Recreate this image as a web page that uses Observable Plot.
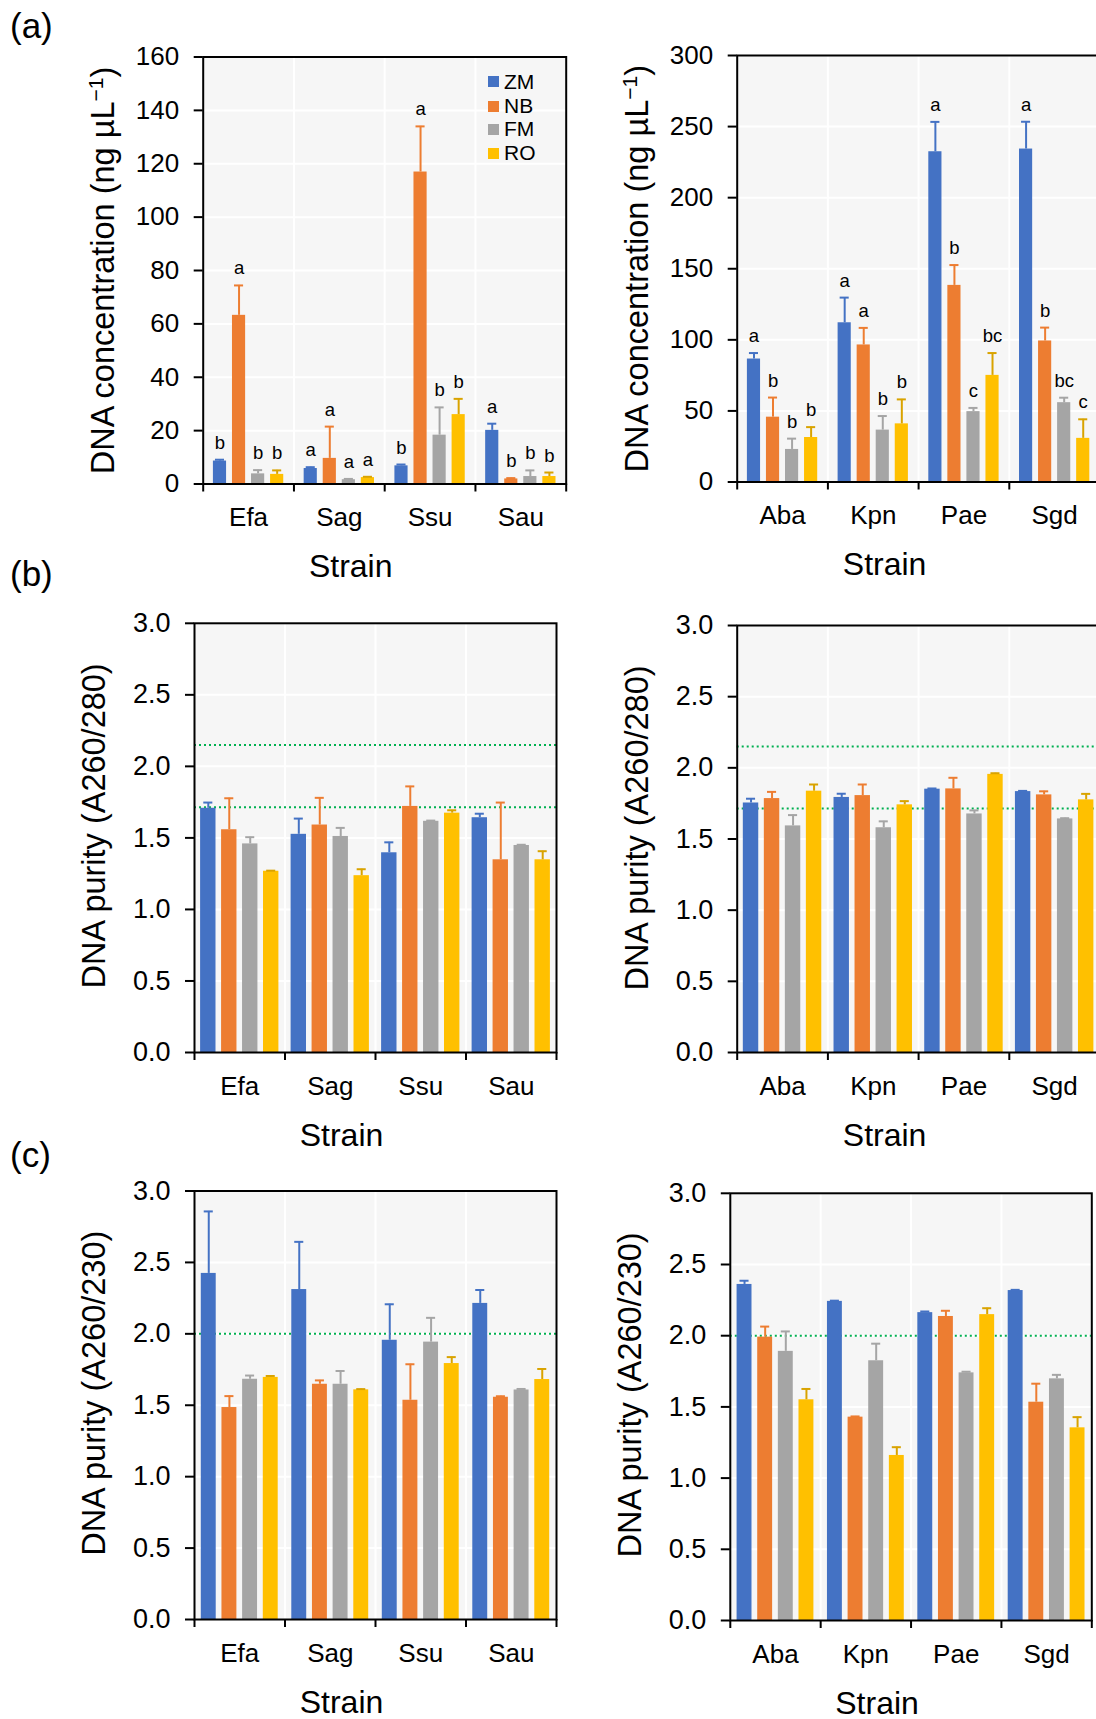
<!DOCTYPE html>
<html>
<head>
<meta charset="utf-8">
<script src="https://cdn.jsdelivr.net/npm/d3@7"></script>
<script src="https://cdn.jsdelivr.net/npm/@observablehq/plot@0.6"></script>
<style>
  html, body { margin: 0; padding: 0; background: #fff; overflow: hidden; width: 1096px; height: 1719px; }
  #fig { position: relative; width: 1096px; height: 1719px; overflow: hidden;
         font-family: "Liberation Sans", Arial, sans-serif; color: #000; }
  .panel { position: absolute; }
  .panel svg { max-width: none !important; display: block; }
  .tag { position: absolute; left: 10px; font-size: 35px; line-height: 1; }
  .leg { position: absolute; font-size: 21px; line-height: 1; }
  .leg .sw { position: absolute; width: 11px; height: 11px; }
  .leg .lb { position: absolute; white-space: nowrap; }
</style>
</head>
<body>
<div id="fig"></div>
<script>
// ---------------- data ----------------
const methods = ["ZM", "NB", "FM", "RO"];
const strainsPos = ["Efa", "Sag", "Ssu", "Sau"];
const strainsNeg = ["Aba", "Kpn", "Pae", "Sgd"];

// (a) DNA concentration, rows = strains, columns = ZM, NB, FM, RO
const concPosMean = [[8.6, 63.2, 3.8, 3.6], [5.8, 9.6, 1.6, 2.4], [6.8, 116.9, 18.3, 26.0], [20.1, 1.9, 2.8, 2.8]];
const concPosSD   = [[0.5, 11.2, 1.4, 1.5], [0.5, 11.9, 0.3, 0.3], [0.5, 17.1, 10.4, 5.9], [2.5, 0.3, 2.3, 1.5]];
const concPosLetters = [["b", "a", "b", "b"], ["a", "a", "a", "a"], ["b", "a", "b", "b"], ["a", "b", "b", "b"]];

const concNegMean = [[86.5, 45.6, 22.9, 31.3], [112.0, 96.4, 36.5, 40.9], [232.3, 138.3, 49.5, 75.0], [234.2, 99.2, 55.8, 30.7]];
const concNegSD   = [[4.2, 13.8, 7.6, 7.3], [17.7, 12.0, 9.9, 17.2], [21.0, 14.3, 2.6, 15.7], [19.2, 9.4, 3.5, 13.4]];
const concNegLetters = [["a", "b", "b", "b"], ["a", "a", "b", "b"], ["a", "b", "c", "bc"], ["a", "b", "bc", "c"]];

// (b) A260/280
const r280PosMean = [[1.707, 1.557, 1.458, 1.267], [1.525, 1.590, 1.510, 1.236], [1.396, 1.720, 1.616, 1.673], [1.641, 1.347, 1.447, 1.347]];
const r280PosSD   = [[0.040, 0.220, 0.047, 0.004], [0.110, 0.190, 0.060, 0.045], [0.073, 0.140, 0.005, 0.020], [0.028, 0.400, 0.005, 0.060]];
const r280NegMean = [[1.753, 1.784, 1.592, 1.836], [1.792, 1.805, 1.579, 1.740], [1.850, 1.852, 1.676, 1.954], [1.833, 1.810, 1.641, 1.775]];
const r280NegSD   = [[0.030, 0.047, 0.076, 0.047], [0.026, 0.078, 0.045, 0.026], [0.005, 0.078, 0.025, 0.008], [0.005, 0.025, 0.005, 0.042]];
const r280Limits = [1.715, 2.15];

// (c) A260/230
const r230PosMean = [[2.423, 1.484, 1.682, 1.695], [2.310, 1.647, 1.647, 1.608], [1.955, 1.535, 1.942, 1.792], [2.213, 1.556, 1.607, 1.680]];
const r230PosSD   = [[0.434, 0.080, 0.026, 0.010], [0.334, 0.027, 0.093, 0.005], [0.252, 0.252, 0.170, 0.045], [0.094, 0.007, 0.007, 0.074]];
const r230NegMean = [[2.360, 1.990, 1.890, 1.550], [2.241, 1.428, 1.824, 1.159], [2.162, 2.135, 1.739, 2.148], [2.317, 1.533, 1.697, 1.353]];
const r230NegSD   = [[0.026, 0.074, 0.140, 0.076], [0.005, 0.005, 0.120, 0.058], [0.008, 0.040, 0.008, 0.045], [0.005, 0.130, 0.028, 0.075]];
const r230Limits = [2.0];

const concTicksPos = [0, 20, 40, 60, 80, 100, 120, 140, 160];
const concTicksNeg = [0, 50, 100, 150, 200, 250, 300];
const ratioTicks = [0, 0.5, 1.0, 1.5, 2.0, 2.5, 3.0];

// ---------------- styles ----------------
const barColors = ["#4472C4", "#ED7D31", "#A5A5A5", "#FFC000"];
const errColors = ["#4472C4", "#ED7D31", "#A5A5A5", "#D9A300"];
const FONT = '"Liberation Sans", Arial, Helvetica, sans-serif';
const concTitle = "DNA concentration (ng µL−1)";

const fig = document.getElementById("fig");

function makePanel(cfg) {
  const {box, strains, mean, sd, letters, yMax, ticks, fmt, limits, title, titleDy, geom, tickFont} = cfg;
  const outer = (1 - geom.group) / 2;
  const step = (geom.group - geom.bar) / 3;
  const cap = 0.05;
  const rows = [];
  strains.forEach((s, i) => methods.forEach((m, j) => {
    const x1 = i + outer + j * step;
    rows.push({strain: s, method: m, j, x1, x2: x1 + geom.bar, xc: x1 + geom.bar / 2,
               mean: mean[i][j], top: mean[i][j] + sd[i][j], letter: letters ? letters[i][j] : null});
  }));
  const W = box.width, H = box.height;
  const marks = [
    Plot.frame({fill: "#F6F6F6", stroke: "none"}),
    Plot.gridY({ticks, stroke: "white", strokeOpacity: 1, strokeWidth: 2}),
    Plot.gridX({ticks: [1, 2, 3], stroke: "white", strokeOpacity: 1, strokeWidth: 2}),
  ];
  if (limits) marks.push(Plot.ruleY(limits, {stroke: "#00B050", strokeWidth: 2, strokeDasharray: "2,3"}));
  methods.forEach((m, j) => {
    const sub = rows.filter(d => d.j === j);
    marks.push(Plot.rect(sub, {x1: "x1", x2: "x2", y1: 0, y2: "mean", fill: barColors[j]}));
    marks.push(Plot.ruleX(sub, {x: "xc", y1: "mean", y2: "top", stroke: errColors[j], strokeWidth: 2}));
    marks.push(Plot.ruleY(sub, {y: "top", x1: d => d.xc - cap, x2: d => d.xc + cap, stroke: errColors[j], strokeWidth: 2}));
  });
  if (letters) marks.push(Plot.text(rows, {x: "xc", y: "top", text: "letter", dy: -11, lineAnchor: "bottom", fontSize: 18.5, fill: "black"}));
  marks.push(
    Plot.frame({stroke: "black", strokeWidth: 2}),
    Plot.axisY({ticks, tickFormat: fmt, tickSize: 9, tickPadding: 15, fontSize: tickFont, strokeWidth: 2, label: null}),
    Plot.axisX({ticks: [0, 1, 2, 3, 4], tickSize: 8, tickFormat: () => "", strokeWidth: 2, label: null}),
    Plot.axisX({ticks: [0.5, 1.5, 2.5, 3.5], tickSize: 0, tickPadding: 24, tickFormat: d => strains[Math.floor(d)], fontSize: 26, label: null}),
    Plot.text([title], {text: d => d, frameAnchor: "left", rotate: -90, dx: -100, dy: titleDy, fontSize: 32.5, lineAnchor: "middle", textAnchor: "middle", fill: "black"}),
    Plot.text(["Strain"], {text: d => d, frameAnchor: "bottom", dx: -34, dy: 93, lineAnchor: "bottom", fontSize: 32, fill: "black"})
  );
  const svg = Plot.plot({
    width: W, height: H,
    marginLeft: box.plotLeft - box.left,
    marginRight: box.left + W - box.plotRight,
    marginTop: box.plotTop - box.top,
    marginBottom: box.top + H - box.plotBottom,
    x: {domain: [0, 4]},
    y: {domain: [0, yMax]},
    style: {background: "transparent", fontFamily: FONT, overflow: "visible", color: "black", maxWidth: "none"},
    marks
  });
  // superscript for µL−1
  svg.querySelectorAll("text").forEach(t => {
    if (t.textContent === concTitle) {
      while (t.firstChild) t.removeChild(t.firstChild);
      t.appendChild(document.createTextNode("DNA concentration (ng µL"));
      const sup = document.createElementNS("http://www.w3.org/2000/svg", "tspan");
      sup.setAttribute("dy", "-11");
      sup.setAttribute("font-size", "21");
      sup.textContent = "−1";
      t.appendChild(sup);
      const close = document.createElementNS("http://www.w3.org/2000/svg", "tspan");
      close.setAttribute("dy", "11");
      close.textContent = ")";
      t.appendChild(close);
    }
  });
  const div = document.createElement("div");
  div.className = "panel";
  div.style.left = box.left + "px";
  div.style.top = box.top + "px";
  div.style.width = W + "px";
  div.style.height = H + "px";
  div.appendChild(svg);
  fig.appendChild(div);
}

const fmtInt = d => String(d);
const fmt1 = d3.format(".1f");
const geomA = {group: 0.775, bar: 0.145};
const geomB = {group: 0.865, bar: 0.17};
const geomC = {group: 0.85, bar: 0.165};

makePanel({box: {left: 0, top: 0, width: 590, height: 600, plotLeft: 202.7, plotRight: 565.7, plotTop: 56.5, plotBottom: 483.5},
  strains: strainsPos, mean: concPosMean, sd: concPosSD, letters: concPosLetters, yMax: 160, ticks: concTicksPos, fmt: fmtInt,
  limits: null, title: concTitle, titleDy: 0, geom: geomA, tickFont: 26});
makePanel({box: {left: 548, top: 0, width: 570, height: 600, plotLeft: 736.7, plotRight: 1099.5, plotTop: 55, plotBottom: 481.5},
  strains: strainsNeg, mean: concNegMean, sd: concNegSD, letters: concNegLetters, yMax: 300, ticks: concTicksNeg, fmt: fmtInt,
  limits: null, title: concTitle, titleDy: 0, geom: geomA, tickFont: 26});
makePanel({box: {left: 0, top: 560, width: 590, height: 600, plotLeft: 194, plotRight: 556, plotTop: 622.8, plotBottom: 1052},
  strains: strainsPos, mean: r280PosMean, sd: r280PosSD, letters: null, yMax: 3, ticks: ratioTicks, fmt: fmt1,
  limits: r280Limits, title: "DNA purity (A260/280)", titleDy: -12, geom: geomB, tickFont: 27});
makePanel({box: {left: 548, top: 560, width: 570, height: 600, plotLeft: 736.7, plotRight: 1099.5, plotTop: 625, plotBottom: 1052},
  strains: strainsNeg, mean: r280NegMean, sd: r280NegSD, letters: null, yMax: 3, ticks: ratioTicks, fmt: fmt1,
  limits: r280Limits, title: "DNA purity (A260/280)", titleDy: -11, geom: geomB, tickFont: 27});
makePanel({box: {left: 0, top: 1130, width: 590, height: 589, plotLeft: 194, plotRight: 556, plotTop: 1190.5, plotBottom: 1619},
  strains: strainsPos, mean: r230PosMean, sd: r230PosSD, letters: null, yMax: 3, ticks: ratioTicks, fmt: fmt1,
  limits: r230Limits, title: "DNA purity (A260/230)", titleDy: -12, geom: geomC, tickFont: 27});
makePanel({box: {left: 548, top: 1130, width: 570, height: 589, plotLeft: 729.8, plotRight: 1091.3, plotTop: 1192.8, plotBottom: 1620},
  strains: strainsNeg, mean: r230NegMean, sd: r230NegSD, letters: null, yMax: 3, ticks: ratioTicks, fmt: fmt1,
  limits: r230Limits, title: "DNA purity (A260/230)", titleDy: -12, geom: geomC, tickFont: 27});

// panel tags
[["(a)", 8.3], ["(b)", 556], ["(c)", 1137]].forEach(([t, y]) => {
  const d = document.createElement("div");
  d.className = "tag";
  d.style.top = y + "px";
  d.textContent = t;
  fig.appendChild(d);
});

// legend in panel (a), left
const legendRowsY = [81.7, 106, 129, 153.3];
methods.forEach((m, j) => {
  const sw = document.createElement("div");
  sw.className = "leg";
  sw.innerHTML = `<div class="sw" style="left:488px;top:${legendRowsY[j] - 5.5}px;background:${barColors[j]}"></div>` +
                 `<div class="lb" style="left:504px;top:${legendRowsY[j] - 11}px">${m}</div>`;
  sw.style.left = "0px"; sw.style.top = "0px";
  fig.appendChild(sw);
});
</script>
</body>
</html>
